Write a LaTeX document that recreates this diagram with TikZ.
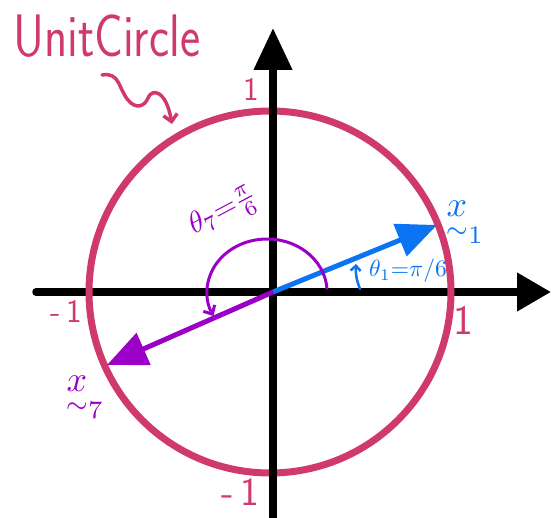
\documentclass[tikz,border=0pt]{standalone}
\usepackage{amsmath}
\usetikzlibrary{arrows.meta}
\definecolor{uc}{HTML}{D0396B}
\definecolor{ub}{HTML}{0A74F2}
\definecolor{up}{HTML}{9A00C6}
\begin{document}
\begin{tikzpicture}[x=1pt,y=-1pt,
  axis/.style={line width=7.5pt, black},
  ucirc/.style={draw=uc, line width=7pt, circle, inner sep=0pt, minimum size=362pt},
  vecb/.style={line width=5pt, ub, -{Triangle[width=34pt,length=40pt]}},
  vecp/.style={line width=5pt, up, -{Triangle[width=34pt,length=40pt]}},
  num/.style={font=\sffamily\fontsize{#1}{#1}\selectfont, text=uc, inner sep=0pt},
  mlab/.style={inner sep=0pt},
]
\useasboundingbox (0,0) rectangle (551,518);
\coordinate (O) at (273,292);
\coordinate (xl) at (36,292);
\coordinate (xr) at (551,292);
\coordinate (yb) at (273,520);
\coordinate (yt) at (273,28);
\coordinate (tipb) at (437,225);
\coordinate (tipp) at (107,365);
% x axis
\draw[axis, line cap=round, -{Triangle[width=37pt,length=34pt]}] (xl) -- (xr);
% unit circle
\node[ucirc] (C) at (270,292) {};
% y axis
\draw[axis, -{Triangle[width=37pt,length=42pt]}] (yb) -- (yt);
% vectors
\draw[vecb] (O) -- (tipb);
\draw[vecp] (O) -- (tipp);
% angle arcs
\coordinate (arcS) at (326.9,288.3);
\draw[up, line width=3pt, line cap=round, -{Straight Barb[length=7pt,width=13pt]}]
  (arcS) arc[start angle=-4, end angle=-207, x radius=60, y radius=53];
\coordinate (sb1) at (360,289);
\coordinate (sb2) at (356,264);
\draw[ub, line width=2.5pt, line cap=round, -{Straight Barb[length=5pt,width=10pt]}]
  (sb1) to[bend left=12] (sb2);
% labels
\node[anchor=base west, inner sep=0pt, text=uc, font=\sffamily\fontsize{60}{60}\selectfont]
  (title) at (13,57) {\scalebox{0.8}[1]{UnitCircle}};
\coordinate (sqA) at (102,75);
\coordinate (sqB) at (172,124);
\draw[uc, line width=3.5pt, line cap=round, line join=round, -{Straight Barb[length=7pt,width=14pt]}]
  (sqA) .. controls (120,72) and (118,88) .. (128,100)
        .. controls (136,110) and (145,106) .. (148,98)
        .. controls (152,88) and (166,90) .. (sqB);
\node[num=33] (n1t) at (251,89) {1};
\node[num=33] (n1l) at (66,311) {-\,1};
\node[num=42] (n1r) at (463,320) {1};
\node[num=40] (n1b) at (240,492) {-\,1};
\node[mlab, text=ub] (x1) at (465,222) {\scalebox{3.6}{$\underset{\sim}{x}_1$}};
\node[mlab, text=up] (x7) at (85,397) {\scalebox{3.6}{$\underset{\sim}{x}_7$}};
\node[mlab, text=ub] (t1) at (408,271) {\scalebox{2.35}{$\theta_1{=}\pi/6$}};
\node[mlab, text=up, rotate=28] (t7) at (224,213) {\scalebox{3}{$\theta_7{=}\frac{\pi}{6}$}};
\end{tikzpicture}
\end{document}
